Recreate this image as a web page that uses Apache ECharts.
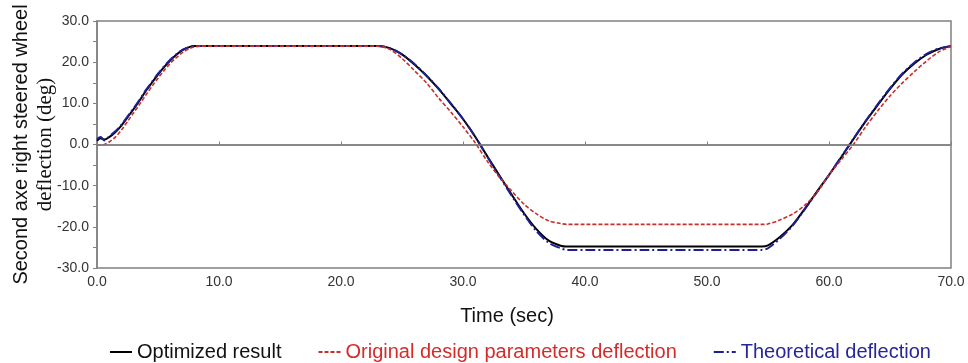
<!DOCTYPE html>
<html>
<head>
<meta charset="utf-8">
<script src="https://cdn.jsdelivr.net/npm/echarts@6/dist/echarts.min.js"></script>
<style>
html,body{margin:0;padding:0;background:#fff;}
#chart{width:968px;height:363px;}
</style>
</head>
<body>
<div id="chart"></div>
<script>
// Time (sec)
var time = [0, 0.3, 0.6, 1, 1.5, 2, 2.5, 3, 3.5, 4, 4.5, 5, 5.5, 6, 6.5, 7, 7.5, 8, 8.5, 10, 15, 20, 23, 24, 25, 26, 27, 28, 29, 30, 31, 32, 33, 34, 35, 36, 37, 38, 38.5, 39, 40, 45, 50, 54, 54.5, 55, 56, 57, 58, 59, 60, 61, 62, 63, 64, 65, 66, 67, 68, 69, 70];
// Optimized result (deg)
var optimized = [0.9, 1.5, 1.2, 1.8, 3.0, 4.6, 6.6, 8.6, 10.7, 13.0, 15.0, 17.0, 18.8, 20.4, 21.8, 22.9, 23.6, 23.9, 23.9, 23.9, 23.9, 23.9, 23.9, 23.4, 21.9, 19.5, 16.7, 13.5, 9.9, 6.2, 1.9, -2.9, -7.6, -12.2, -16.7, -20.5, -23.3, -24.6, -24.8, -24.8, -24.8, -24.8, -24.8, -24.8, -24.8, -24.5, -22.4, -19.6, -15.7, -11.5, -7.4, -3.1, 1.3, 5.6, 9.6, 13.5, 17.0, 19.7, 21.8, 23.2, 23.9];
// Original design parameters deflection (deg)
var original = [-0.2, -0.2, 0.0, 0.6, 1.8, 3.5, 5.6, 7.7, 9.8, 12.0, 14.1, 16.1, 18.0, 19.7, 21.1, 22.3, 23.2, 23.7, 23.9, 23.9, 23.9, 23.9, 23.9, 23.1, 20.9, 18.0, 15.0, 11.3, 7.9, 4.3, 0.4, -4.1, -8.0, -11.3, -14.5, -16.8, -18.5, -19.2, -19.4, -19.4, -19.4, -19.4, -19.4, -19.4, -19.4, -19.3, -18.3, -16.9, -14.8, -11.7, -7.4, -3.7, 0.0, 4.3, 8.2, 11.8, 14.9, 17.7, 20.3, 22.5, 23.8];
// Theoretical deflection (deg)
var theoretical = [1.3, 1.8, 1.0, 2.0, 3.2, 4.8, 6.8, 8.8, 10.9, 13.2, 15.2, 17.2, 19.0, 20.6, 21.9, 23.0, 23.6, 23.9, 23.9, 23.9, 23.9, 23.9, 23.9, 23.4, 21.9, 19.6, 16.8, 13.6, 10.0, 6.2, 1.9, -3.0, -7.8, -12.5, -17.0, -21.0, -23.8, -25.2, -25.6, -25.6, -25.6, -25.6, -25.6, -25.6, -25.6, -25.2, -22.8, -19.8, -15.8, -11.6, -7.4, -3.0, 1.4, 5.7, 9.8, 13.7, 17.2, 19.9, 22.0, 23.3, 23.9];

var seriesNames = ['Optimized result', 'Original design parameters deflection', 'Theoretical deflection'];

function pairs(vals) { return time.map(function (t, i) { return [t, vals[i]]; }); }

var chart = echarts.init(document.getElementById('chart'), null, { renderer: 'canvas' });
var axisGray = '#808080';
chart.setOption({
  animation: false,
  backgroundColor: '#ffffff',
  grid: { left: 97, right: 17, top: 21, bottom: 95, containLabel: false, outerBoundsMode: 'none', show: true, borderColor: axisGray, borderWidth: 1.5, backgroundColor: 'transparent' },
  legend: {
    left: 104, top: 337, itemWidth: 22, itemHeight: 14, itemGap: 36,
    itemStyle: { opacity: 0 },
    textStyle: { fontSize: 20, fontFamily: 'Liberation Sans, Arial, sans-serif' },
    data: [
      { name: seriesNames[0], textStyle: { color: '#111111' } },
      { name: seriesNames[1], textStyle: { color: '#d42c2a' } },
      { name: seriesNames[2], textStyle: { color: '#26269a' } }
    ]
  },
  xAxis: {
    type: 'value', min: 0, max: 70, interval: 10,
    name: 'Time (sec)', nameLocation: 'middle', nameGap: 38, nameMoveOverlap: false,
    nameTextStyle: { fontSize: 20, color: '#111', fontFamily: 'Liberation Sans, Arial, sans-serif', padding: [0, 34, 0, 0] },
    axisLine: { lineStyle: { color: axisGray, width: 1.5 } },
    axisTick: { inside: true, length: 3, lineStyle: { color: axisGray } },
    axisLabel: { fontSize: 14, color: '#333', margin: 7, fontFamily: 'Liberation Sans, Arial, sans-serif', formatter: function (v) { return v.toFixed(1); } },
    splitLine: { show: false }
  },
  yAxis: {
    type: 'value', min: -30, max: 30, interval: 10,
    name: '{a|Second axe right steered wheel}\n{b|deflection (deg)}',
    nameLocation: 'middle', nameGap: 40, nameMoveOverlap: false,
    nameTextStyle: {
      color: '#111', lineHeight: 24,
      rich: {
        a: { fontSize: 20, fontFamily: 'Liberation Sans, Arial, sans-serif', color: '#111', lineHeight: 24 },
        b: { fontSize: 21, fontFamily: 'Liberation Serif, Times New Roman, serif', color: '#111', lineHeight: 24 }
      }
    },
    axisLine: { show: true, lineStyle: { color: axisGray, width: 1.5 } },
    axisTick: { show: true, length: 4, lineStyle: { color: axisGray } },
    minorTick: { show: true, splitNumber: 2, length: 4, lineStyle: { color: axisGray } },
    axisLabel: { fontSize: 14, color: '#333', margin: 8, fontFamily: 'Liberation Sans, Arial, sans-serif', formatter: function (v) { return v.toFixed(1); } },
    splitLine: { show: false }
  },
  series: [
    {
      name: seriesNames[0], type: 'line', data: pairs(optimized), symbol: 'none', smooth: 0.3,
      lineStyle: { color: '#000000', width: 2 }, itemStyle: { color: '#000000' },
      markLine: { silent: true, symbol: 'none', label: { show: false }, lineStyle: { color: axisGray, width: 1.5, type: 'solid' }, data: [{ yAxis: 0 }] }
    },
    {
      name: seriesNames[2], type: 'line', data: pairs(theoretical), symbol: 'none', smooth: 0.3,
      lineStyle: { color: '#1f1f95', width: 2, type: [10, 3, 2, 3] }, itemStyle: { color: '#1f1f95' }
    },
    {
      name: seriesNames[1], type: 'line', data: pairs(original), symbol: 'none', smooth: 0.3,
      lineStyle: { color: '#c4302c', width: 1.6, type: [4, 2] }, itemStyle: { color: '#c4302c' }
    }
  ]
});
</script>
</body>
</html>
